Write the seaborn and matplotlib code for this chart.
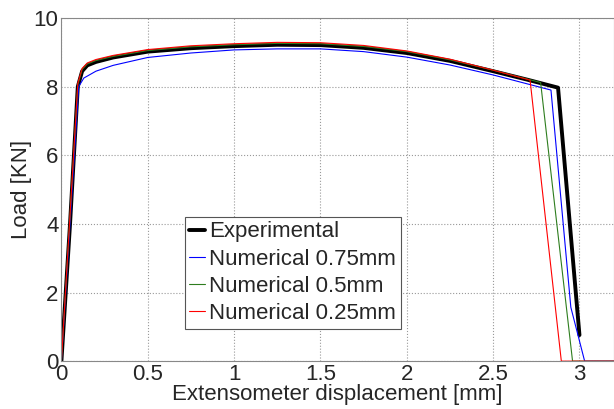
import pandas as pd
import matplotlib
matplotlib.use("Agg")
import matplotlib.pyplot as plt
import seaborn as sns

# experimental curve
exp_x = [0, 0.05, 0.095, 0.12, 0.15, 0.2, 0.3, 0.5, 0.75, 1.0, 1.25, 1.5, 1.75,
         2.0, 2.25, 2.5, 2.7, 2.876, 3.0]
exp_y = [0, 4.0, 8.0, 8.45, 8.62, 8.72, 8.85, 9.02, 9.12, 9.18, 9.22, 9.21, 9.13,
         8.98, 8.75, 8.45, 8.2, 7.97, 0.76]

# numerical 0.75mm
n75_x = [0, 0.1, 0.13, 0.2, 0.3, 0.5, 0.75, 1.0, 1.25, 1.5, 1.75, 2.0, 2.25, 2.5,
         2.835, 2.95, 3.03, 3.2]
n75_y = [0, 8.0, 8.25, 8.45, 8.62, 8.85, 8.98, 9.07, 9.1, 9.1, 9.02, 8.86, 8.63, 8.34,
         7.9, 1.57, 0, 0]

# numerical 0.5mm
n50_x = [0, 0.095, 0.12, 0.15, 0.2, 0.3, 0.5, 0.75, 1.0, 1.25, 1.5, 1.75, 2.0, 2.25,
         2.5, 2.775, 2.96, 3.2]
n50_y = [0, 8.05, 8.5, 8.66, 8.76, 8.88, 9.05, 9.16, 9.22, 9.26, 9.25, 9.17, 9.02, 8.78,
         8.48, 8.12, 0, 0]

# numerical 0.25mm
n25_x = [0, 0.095, 0.12, 0.15, 0.2, 0.3, 0.5, 0.75, 1.0, 1.25, 1.5, 1.75, 2.0, 2.25,
         2.5, 2.714, 2.895, 3.2]
n25_y = [0, 8.1, 8.53, 8.69, 8.79, 8.91, 9.08, 9.19, 9.25, 9.29, 9.28, 9.2, 9.04, 8.8,
         8.48, 8.19, 0, 0]

labels = ["Experimental", "Numerical 0.75mm", "Numerical 0.5mm", "Numerical 0.25mm"]

sns.set_style("white")
plt.rcParams["font.family"] = ["Liberation Sans", "DejaVu Sans"]

fig = plt.figure(figsize=(6.14, 4.09), dpi=100)
ax = fig.add_axes([0.1, 0.117, 0.9, 0.839])

series = [(exp_x, exp_y, "black", 2.8), (n75_x, n75_y, "blue", 0.8),
          (n50_x, n50_y, "#2e7d1e", 0.8), (n25_x, n25_y, "red", 0.8)]
for (xs, ys, c, lw), lab in zip(series, labels):
    df = pd.DataFrame({"x": xs, "y": ys})
    sns.lineplot(data=df, x="x", y="y", sort=False, color=c, linewidth=lw,
                 ax=ax, estimator=None)

ax.set_xlim(0, 3.2)
ax.set_ylim(0, 10)
ax.set_xticks([0, 0.5, 1, 1.5, 2, 2.5, 3])
ax.set_xticklabels(["0", "0.5", "1", "1.5", "2", "2.5", "3"])
ax.set_yticks([0, 2, 4, 6, 8, 10])
ax.grid(True, linestyle=":", color="#999999", linewidth=0.8)
ax.tick_params(direction="in", labelsize=16, pad=2, length=4, color="#666666")
for s in ax.spines.values():
    s.set_color("#888888")
    s.set_linewidth(0.8)
ax.set_xlabel("Extensometer displacement [mm]", fontsize=16, labelpad=-1)
ax.set_ylabel("Load [KN]", fontsize=16, labelpad=1)

leg = ax.legend(ax.get_lines()[:4], labels, loc="upper left",
                bbox_to_anchor=(0.2235, 0.42), borderaxespad=0,
                fontsize=16, handlelength=0.7, handletextpad=0.2, labelspacing=0.28,
                fancybox=False, framealpha=1, borderpad=0.2)
leg.get_frame().set_edgecolor("#555555")
leg.get_frame().set_linewidth(0.8)

fig.savefig("out.png", dpi=100)
